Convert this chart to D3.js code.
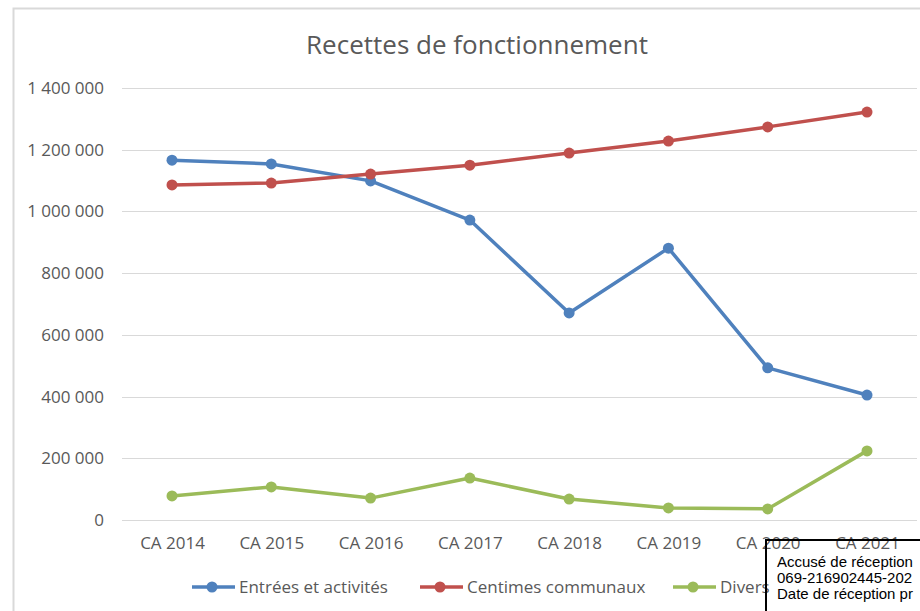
<!DOCTYPE html>
<html>
<head>
<meta charset="utf-8">
<script src="https://cdn.jsdelivr.net/npm/d3@7"></script>
<style>
  body { margin: 0; background: #fff; }
  svg { display: block; }
</style>
</head>
<body>
<div id="chart"></div>
<script>
// Recettes de fonctionnement
const years = ['CA 2014', 'CA 2015', 'CA 2016', 'CA 2017', 'CA 2018', 'CA 2019', 'CA 2020', 'CA 2021'];
const entrees = [1166000, 1154000, 1099000, 972000, 671000, 881000, 493000, 405000];
const centimes = [1086000, 1092000, 1121000, 1150000, 1189000, 1228000, 1274000, 1322000];
const divers = [78000, 107000, 71000, 136000, 68000, 39000, 36000, 224000];
const yTicks = [0, 200000, 400000, 600000, 800000, 1000000, 1200000, 1400000];

const series = [
    { name: 'Entrées et activités', color: '#4f81bd', values: entrees },
    { name: 'Centimes communaux', color: '#c0504d', values: centimes },
    { name: 'Divers', color: '#9bbb59', values: divers }
];

const W = 920, H = 611;
const font = "'Open Sans', 'Noto Sans', sans-serif";

const svg = d3.select('#chart').append('svg')
    .attr('width', W)
    .attr('height', H);

// chart frame
svg.append('rect')
    .attr('x', 13.5).attr('y', 8.5)
    .attr('width', W).attr('height', H)
    .attr('fill', 'none')
    .attr('stroke', '#d9d9d9')
    .attr('stroke-width', 2);

svg.append('text')
    .attr('x', 477).attr('y', 54)
    .attr('text-anchor', 'middle')
    .attr('font-family', font)
    .attr('font-size', 26)
    .attr('fill', '#595959')
    .text('Recettes de fonctionnement');

const x = d3.scalePoint()
    .domain(years)
    .range([172, 867]);

const y = d3.scaleLinear()
    .domain([0, 1400000])
    .range([520, 88]);

const fmt = v => d3.format(',')(v).replace(/,/g, ' ');

// grid
svg.append('g')
    .selectAll('line')
    .data(yTicks)
    .enter().append('line')
    .attr('x1', 122).attr('x2', 917)
    .attr('y1', d => Math.round(y(d)) + 0.5)
    .attr('y2', d => Math.round(y(d)) + 0.5)
    .attr('stroke', '#d9d9d9')
    .attr('stroke-width', 1);

// y axis labels
const yAxis = svg.append('g')
    .attr('transform', 'translate(104,0)')
    .call(d3.axisLeft(y).tickValues(yTicks).tickSize(0).tickPadding(0).tickFormat(fmt));
yAxis.select('.domain').remove();
yAxis.selectAll('text')
    .attr('font-family', font)
    .attr('font-size', 17)
    .attr('fill', '#595959');

// x axis labels
const xAxis = svg.append('g')
    .attr('transform', 'translate(0,537)')
    .call(d3.axisBottom(x).tickSize(0).tickPadding(0));
xAxis.select('.domain').remove();
xAxis.selectAll('text')
    .attr('font-family', font)
    .attr('font-size', 17)
    .attr('fill', '#595959');

const line = d3.line()
    .x((d, i) => x(years[i]))
    .y(d => y(d));

series.forEach(s => {
    svg.append('path')
        .datum(s.values)
        .attr('d', line)
        .attr('fill', 'none')
        .attr('stroke', s.color)
        .attr('stroke-width', 3.5)
        .attr('stroke-linejoin', 'round');

    svg.append('g')
        .selectAll('circle')
        .data(s.values)
        .enter().append('circle')
        .attr('cx', (d, i) => x(years[i]))
        .attr('cy', d => y(d))
        .attr('r', 5.5)
        .attr('fill', s.color);
});

// legend
const legendX = [192, 420, 673];
series.forEach((s, i) => {
    const lg = svg.append('g').attr('transform', `translate(${legendX[i]},587)`);
    lg.append('line')
        .attr('x1', 0).attr('x2', 43)
        .attr('stroke', s.color)
        .attr('stroke-width', 3.5);
    lg.append('circle')
        .attr('cx', 20).attr('r', 5.5)
        .attr('fill', s.color);
    lg.append('text')
        .attr('x', 47).attr('dy', '0.35em')
        .attr('font-family', font)
        .attr('font-size', 17)
        .attr('fill', '#595959')
        .text(s.name);
});

// reception stamp overlapping the bottom right corner
const stamp = svg.append('g');
stamp.append('rect')
    .attr('x', 766).attr('y', 540)
    .attr('width', 200).attr('height', 100)
    .attr('fill', 'none')
    .attr('stroke', '#000')
    .attr('stroke-width', 2);
const stampLines = ['Accusé de réception', '069-216902445-202', 'Date de réception pr'];
stamp.selectAll('text')
    .data(stampLines)
    .enter().append('text')
    .attr('x', 777)
    .attr('y', (d, i) => 567 + i * 16)
    .attr('font-family', "'Liberation Sans', Arial, sans-serif")
    .attr('font-size', 15)
    .attr('fill', '#000')
    .text(d => d);
</script>
</body>
</html>
